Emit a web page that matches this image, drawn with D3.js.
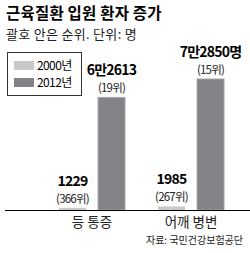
<!DOCTYPE html>
<html>
<head>
<meta charset="utf-8">
<script src="https://cdn.jsdelivr.net/npm/d3@7"></script>
<style>
  body { margin: 0; background: #fff; }
  text { font-family: "Noto Sans CJK KR", "Noto Sans", sans-serif; }
</style>
</head>
<body>
<div id="chart"></div>
<script>
const categories = ['등 통증', '어깨 병변'];
const years = ['2000년', '2012년'];
const values2000 = [1229, 1985];
const values2012 = [62613, 72850];
const labels2000 = ['1229', '1985'];
const labels2012 = ['6만2613', '7만2850명'];
const ranks2000 = ['(366위)', '(267위)'];
const ranks2012 = ['(19위)', '(15위)'];

const width = 250, height = 253;
const colors = { '2000년': '#c9c9c9', '2012년': '#838387' };

const svg = d3.select('#chart').append('svg')
    .attr('width', width)
    .attr('height', height);

// 제목
svg.append('text')
    .attr('x', 6).attr('y', 18.5)
    .attr('font-size', 15.5).attr('font-weight', 'bold')
    .attr('letter-spacing', 0.2)
    .text('근육질환 입원 환자 증가');

svg.append('text')
    .attr('x', 6).attr('y', 38.5)
    .attr('font-size', 13)
    .attr('letter-spacing', 0.3)
    .attr('fill', '#222')
    .text('괄호 안은 순위. 단위: 명');

const data = [];
categories.forEach((c, i) => {
    data.push({ cat: c, year: years[0], value: values2000[i], label: labels2000[i], rank: ranks2000[i] });
    data.push({ cat: c, year: years[1], value: values2012[i], label: labels2012[i], rank: ranks2012[i] });
});

const x = d3.scaleBand()
    .domain(categories)
    .range([42.5, 240.5])
    .paddingInner(1 / 3)
    .paddingOuter(1 / 6);

const xInner = d3.scaleBand()
    .domain(years)
    .range([0, x.bandwidth()])
    .paddingInner(0.31);

const y = d3.scaleLinear()
    .domain([0, d3.max(values2012)])
    .range([210, 79]);

const bars = svg.append('g');
bars.selectAll('rect')
    .data(data)
    .enter().append('rect')
    .attr('x', d => x(d.cat) + xInner(d.year))
    .attr('y', d => y(d.value))
    .attr('width', xInner.bandwidth())
    .attr('height', d => y(0) - y(d.value))
    .attr('fill', d => colors[d.year])
    .attr('stroke', d => d.year === years[1] ? '#a5a5a8' : 'none')
    .attr('stroke-width', 1);

// 값 라벨
const lab = svg.append('g').attr('text-anchor', 'middle');
lab.selectAll('.val')
    .data(data)
    .enter().append('text')
    .attr('class', 'val')
    .attr('x', d => x(d.cat) + xInner(d.year) + xInner.bandwidth() / 2)
    .attr('y', d => y(d.value) - 22)
    .attr('font-size', 14).attr('font-weight', 'bold')
    .attr('letter-spacing', -0.8)
    .text(d => d.label);

lab.selectAll('.rank')
    .data(data)
    .enter().append('text')
    .attr('class', 'rank')
    .attr('x', d => x(d.cat) + xInner(d.year) + xInner.bandwidth() / 2)
    .attr('y', d => y(d.value) - 5)
    .attr('font-size', 11.5)
    .attr('letter-spacing', -0.8)
    .attr('fill', '#222')
    .text(d => d.rank);

// 가로축
svg.append('g')
    .attr('transform', `translate(0,${y(0)})`)
    .call(d3.axisBottom(x).tickSize(0).tickPadding(7))
    .call(g => g.select('.domain').attr('d', 'M5,0.5H250').attr('stroke', '#000').attr('stroke-width', 1.2))
    .call(g => g.selectAll('.tick text')
        .attr('font-family', '"Noto Sans CJK KR", sans-serif')
        .attr('font-size', 13.5)
        .attr('fill', '#222'));

// 범례
const legend = svg.append('g');
legend.append('rect')
    .attr('x', 7.5).attr('y', 52.5)
    .attr('width', 74).attr('height', 43)
    .attr('fill', '#fff').attr('stroke', '#333');
years.forEach((yr, i) => {
    legend.append('rect')
        .attr('x', 14).attr('y', 61 + i * 17)
        .attr('width', 20).attr('height', 9)
        .attr('fill', colors[yr]);
    legend.append('text')
        .attr('x', 37).attr('y', 70 + i * 17)
        .attr('font-size', 12)
        .attr('letter-spacing', -0.6)
        .text(yr);
});

// 출처
svg.append('text')
    .attr('x', 243).attr('y', 244)
    .attr('text-anchor', 'end')
    .attr('font-size', 10)
    .attr('fill', '#222')
    .text('자료: 국민건강보험공단');
</script>
</body>
</html>
